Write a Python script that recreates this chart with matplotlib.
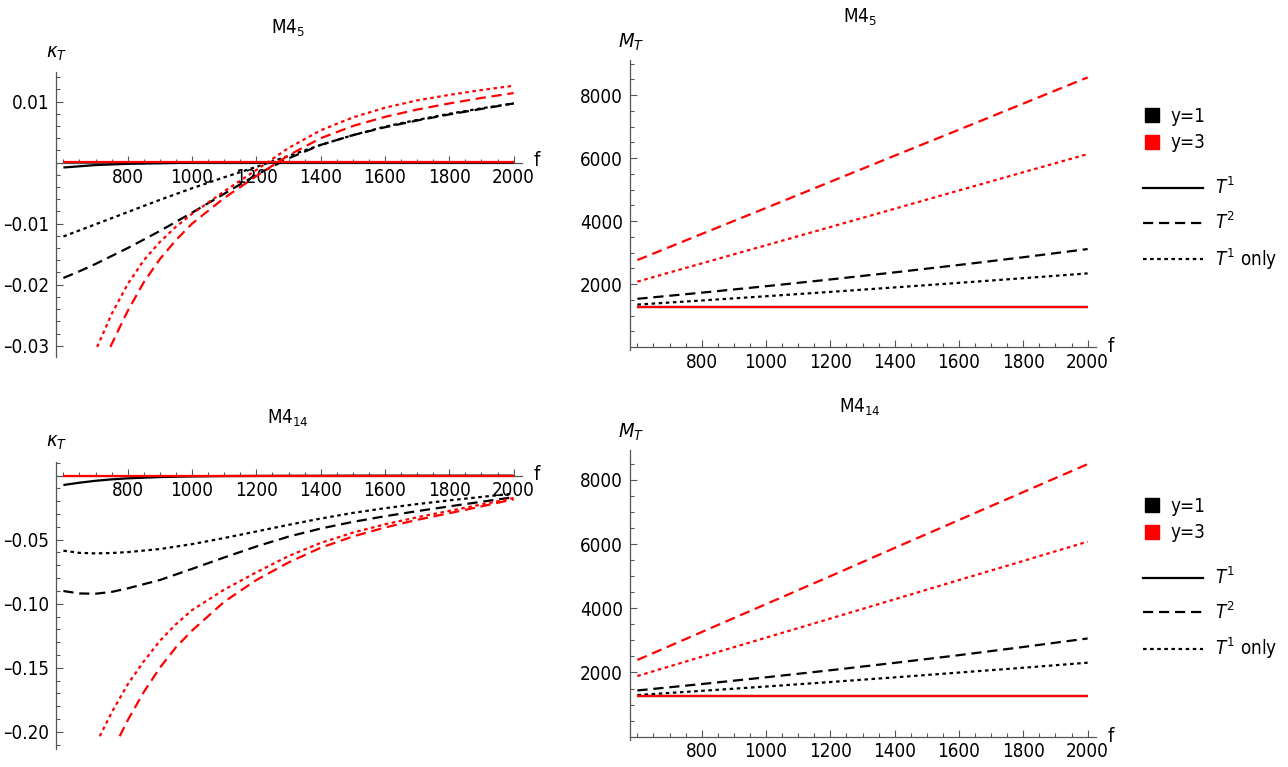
import matplotlib.pyplot as plt
from matplotlib.lines import Line2D
from matplotlib.ticker import FixedLocator, FixedFormatter, NullFormatter

plt.rcParams["font.family"] = ["DejaVu Sans"]
plt.rcParams["font.stretch"] = "condensed"
plt.rcParams["mathtext.fontset"] = "dejavusans"

# ---------------------------------------------------------------- data
# kappa_T for M4_5 (top left)
f_k5_black = [600, 650, 700, 750, 800, 900, 1000, 1100, 1200, 1300, 1400, 1500, 1600, 1700, 1800, 1900, 2000]
k5_y1_T1 = [-0.0008, -0.0006, -0.0004, -0.0003, -0.0002, -0.0001, 0.0, 0.0, 0.0, 0.0, 0.0, 0.0, 0.0, 0.0, 0.0, 0.0, 0.0]
k5_y1_T2 = [-0.0189, -0.0178, -0.0166, -0.0153, -0.0140, -0.0112, -0.0082, -0.0051, -0.0020, 0.0007, 0.0029, 0.0045, 0.0058, 0.0069, 0.0079, 0.0088, 0.0097]
k5_y1_T1only = [-0.0121, -0.0111, -0.0101, -0.0091, -0.0081, -0.0061, -0.0042, -0.0024, -0.0007, 0.0011, 0.0029, 0.0045, 0.0059, 0.0070, 0.0080, 0.0089, 0.0097]
f_k5_red_solid = [600, 2000]
k5_y3_T1 = [0.0001, 0.0001]
f_k5_red_T2 = [746, 775, 800, 850, 900, 950, 1000, 1100, 1200, 1300, 1400, 1500, 1600, 1700, 1800, 1900, 2000]
k5_y3_T2 = [-0.0302, -0.0270, -0.0243, -0.0196, -0.0158, -0.0127, -0.0100, -0.0058, -0.0022, 0.0012, 0.0040, 0.0060, 0.0075, 0.0087, 0.0097, 0.0106, 0.0114]
f_k5_red_T1only = [705, 750, 800, 850, 900, 950, 1000, 1100, 1200, 1300, 1400, 1500, 1600, 1700, 1800, 1900, 2000]
k5_y3_T1only = [-0.0302, -0.0248, -0.0199, -0.0160, -0.0130, -0.0105, -0.0084, -0.0047, -0.0012, 0.0024, 0.0053, 0.0074, 0.0090, 0.0102, 0.0111, 0.0119, 0.0126]

# kappa_T for M4_14 (bottom left)
f_k14_black = [600, 650, 700, 750, 800, 900, 1000, 1100, 1200, 1300, 1400, 1500, 1600, 1700, 1800, 1900, 2000]
k14_y1_T1 = [-0.0073, -0.0055, -0.0040, -0.0029, -0.0021, -0.0011, -0.0006, -0.0003, -0.0002, -0.0001, -0.0001, 0.0, 0.0, 0.0, 0.0, 0.0, 0.0]
k14_y1_T2 = [-0.0901, -0.0920, -0.0922, -0.0908, -0.0880, -0.0815, -0.0728, -0.0639, -0.0553, -0.0476, -0.0413, -0.0361, -0.0317, -0.0277, -0.0240, -0.0204, -0.0168]
k14_y1_T1only = [-0.0586, -0.0603, -0.0607, -0.0604, -0.0597, -0.0573, -0.0535, -0.0487, -0.0436, -0.0384, -0.0335, -0.0291, -0.0254, -0.0222, -0.0193, -0.0166, -0.0140]
f_k14_red_solid = [600, 2000]
k14_y3_T1 = [0.0, 0.0]
f_k14_red_T2 = [775, 800, 850, 900, 950, 1000, 1100, 1200, 1300, 1400, 1500, 1600, 1700, 1800, 1900, 2000]
k14_y3_T2 = [-0.2035, -0.1910, -0.1690, -0.1500, -0.1340, -0.1210, -0.0985, -0.0815, -0.0678, -0.0563, -0.0475, -0.0405, -0.0345, -0.0293, -0.0240, -0.0185]
f_k14_red_T1only = [713, 750, 800, 850, 900, 950, 1000, 1100, 1200, 1300, 1400, 1500, 1600, 1700, 1800, 1900, 2000]
k14_y3_T1only = [-0.2035, -0.1850, -0.1630, -0.1450, -0.1290, -0.1160, -0.1050, -0.0890, -0.0755, -0.0628, -0.0525, -0.0445, -0.0380, -0.0325, -0.0275, -0.0225, -0.0175]

# M_T (right column)
f_mass = [600, 800, 1000, 1200, 1400, 1600, 1800, 2000]
m5_y1_T1 = [1258, 1258, 1258, 1258, 1258, 1258, 1258, 1258]
m5_y1_T2 = [1530, 1725, 1930, 2145, 2370, 2605, 2850, 3110]
m5_y1_T1only = [1347, 1477, 1612, 1750, 1892, 2037, 2185, 2337]
m5_y3_T1 = [1263, 1263, 1263, 1263, 1263, 1263, 1263, 1263]
m5_y3_T2 = [2760, 3590, 4415, 5245, 6075, 6900, 7730, 8560]
m5_y3_T1only = [2075, 2655, 3230, 3810, 4390, 4970, 5550, 6125]

m14_y1_T1 = [1262, 1262, 1262, 1262, 1262, 1262, 1262, 1262]
m14_y1_T2 = [1440, 1640, 1850, 2070, 2300, 2540, 2795, 3060]
m14_y1_T1only = [1298, 1428, 1563, 1703, 1848, 1998, 2148, 2305]
m14_y3_T1 = [1267, 1267, 1267, 1267, 1267, 1267, 1267, 1267]
m14_y3_T2 = [2390, 3260, 4130, 5000, 5880, 6750, 7620, 8490]
m14_y3_T1only = [1890, 2490, 3085, 3680, 4280, 4880, 5475, 6075]

x_major = [800, 1000, 1200, 1400, 1600, 1800, 2000]
x_labels = ["800", "1000", "1200", "1400", "1600", "1800", "2000"]

# ---------------------------------------------------------------- style
W, H = 1288, 767
RED = "#ff0000"
LW = 1.6
SOLID = "-"
DASHED = (0, (4.6, 2.6))
DOTTED = (0, (1.6, 1.6))
FS = 13.5
AXIS_COLOR = "#555555"
NEG = "\u2013"  # short dash, closer to the reference's minus sign

fig = plt.figure(figsize=(W / 100, H / 100), dpi=100, facecolor="white")


def add_panel(left, top, right, bottom):
    return fig.add_axes([left / W, 1 - bottom / H, (right - left) / W, (bottom - top) / H])


def style_panel(ax, ylim, yticks, ylabels, yminor):
    ax.set_xlim(577, 2026)
    ax.set_ylim(*ylim)
    ax.set_facecolor("none")
    for side in ("top", "right"):
        ax.spines[side].set_visible(False)
    ax.spines["bottom"].set_position(("data", 0))
    for side in ("left", "bottom"):
        ax.spines[side].set_color(AXIS_COLOR)
        ax.spines[side].set_linewidth(0.9)
        ax.spines[side].set_zorder(0.5)
    ax.set_axisbelow(True)

    ax.xaxis.set_major_locator(FixedLocator(x_major))
    ax.xaxis.set_major_formatter(FixedFormatter(x_labels))
    ax.xaxis.set_minor_locator(FixedLocator([v for v in range(600, 2001, 50) if v not in x_major]))
    ax.xaxis.set_minor_formatter(NullFormatter())
    ax.yaxis.set_major_locator(FixedLocator(yticks))
    ax.yaxis.set_major_formatter(FixedFormatter(ylabels))
    ax.yaxis.set_minor_locator(FixedLocator(yminor))
    ax.yaxis.set_minor_formatter(NullFormatter())

    ax.tick_params(which="both", direction="in", color=AXIS_COLOR, width=0.8)
    ax.tick_params(which="major", length=5)
    ax.tick_params(which="minor", length=3)
    ax.tick_params(axis="x", which="major", labelsize=FS, pad=4)
    ax.tick_params(axis="y", which="major", labelsize=FS, pad=5)


def draw_series(ax, series):
    for fx, vals, color, ls in series:
        ax.plot(fx, vals, color=color, linestyle=ls, linewidth=LW, solid_capstyle="butt")


def axis_text(x, y, s, size=FS, **kw):
    fig.text(x / W, 1 - y / H, s, fontsize=size, ha="center", va="center", **kw)


# top left: kappa_T, M4_5
ax_tl = add_panel(56, 71.7, 522, 356.7)
style_panel(
    ax_tl, (-0.0318, 0.0149),
    [0.01, -0.01, -0.02, -0.03], ["0.01", NEG + "0.01", NEG + "0.02", NEG + "0.03"],
    [round(v * 0.002, 4) for v in range(-15, 8) if v % 5 != 0],
)
draw_series(ax_tl, [
    (f_k5_black, k5_y1_T1, "black", SOLID),
    (f_k5_black, k5_y1_T2, "black", DASHED),
    (f_k5_black, k5_y1_T1only, "black", DOTTED),
    (f_k5_red_solid, k5_y3_T1, RED, SOLID),
    (f_k5_red_T2, k5_y3_T2, RED, DASHED),
    (f_k5_red_T1only, k5_y3_T1only, RED, DOTTED),
])
axis_text(288, 28, "M4$_{5}$")
axis_text(57, 53, r"$\kappa_T$", size=14.5)
axis_text(537, 161, "f", size=14.5)

# bottom left: kappa_T, M4_14
ax_bl = add_panel(56, 461.7, 522, 749.3)
style_panel(
    ax_bl, (-0.2137, 0.0109),
    [-0.05, -0.10, -0.15, -0.20], [NEG + "0.05", NEG + "0.10", NEG + "0.15", NEG + "0.20"],
    [round(v * 0.01, 3) for v in range(-21, 2) if v % 5 != 0],
)
draw_series(ax_bl, [
    (f_k14_black, k14_y1_T1, "black", SOLID),
    (f_k14_black, k14_y1_T2, "black", DASHED),
    (f_k14_black, k14_y1_T1only, "black", DOTTED),
    (f_k14_red_solid, k14_y3_T1, RED, SOLID),
    (f_k14_red_T2, k14_y3_T2, RED, DASHED),
    (f_k14_red_T1only, k14_y3_T1only, RED, DOTTED),
])
axis_text(288, 418, "M4$_{14}$")
axis_text(57, 443, r"$\kappa_T$", size=14.5)
axis_text(537, 475, "f", size=14.5)

# right column: M_T
mass_minor = [v for v in range(500, 9001, 500) if v % 2000 != 0]
for top, x_axis_y, ymax, title, (m_b1, m_b2, m_b3, m_r1, m_r2, m_r3) in [
    (60.4, 347.0, 9100, "M4$_{5}$", (m5_y1_T1, m5_y1_T2, m5_y1_T1only, m5_y3_T1, m5_y3_T2, m5_y3_T1only)),
    (450.0, 736.7, 8930, "M4$_{14}$", (m14_y1_T1, m14_y1_T2, m14_y1_T1only, m14_y3_T1, m14_y3_T2, m14_y3_T1only)),
]:
    scale = (x_axis_y - top) / ymax
    ax = add_panel(630, top, 1096, x_axis_y + 100 * scale)
    style_panel(ax, (-100, ymax), [2000, 4000, 6000, 8000], ["2000", "4000", "6000", "8000"], mass_minor)
    draw_series(ax, [
        (f_mass, m_b1, "black", SOLID),
        (f_mass, m_b2, "black", DASHED),
        (f_mass, m_b3, "black", DOTTED),
        (f_mass, m_r1, RED, SOLID),
        (f_mass, m_r2, RED, DASHED),
        (f_mass, m_r3, RED, DOTTED),
    ])
    axis_text(860, top - 43, title)
    axis_text(631, top - 18, "$M_T$", size=14.5)
    axis_text(1111, x_axis_y, "f", size=14.5)

    shift = top - 60.4
    color_handles = [
        Line2D([], [], marker="s", linestyle="none", color="black", markersize=9.5),
        Line2D([], [], marker="s", linestyle="none", color=RED, markersize=9.5),
    ]
    fig.legend(
        color_handles, ["y=1", "y=3"], loc="upper left",
        bbox_to_anchor=(1143 / W, 1 - (107 + shift) / H),
        frameon=False, fontsize=FS, handlelength=0.95, handletextpad=0.5,
        labelspacing=0.4, borderpad=0, borderaxespad=0,
    )
    style_handles = [
        Line2D([], [], color="black", linestyle=SOLID, linewidth=LW),
        Line2D([], [], color="black", linestyle=DASHED, linewidth=LW),
        Line2D([], [], color="black", linestyle=DOTTED, linewidth=LW),
    ]
    fig.legend(
        style_handles, ["$T^1$", "$T^2$", "$T^1$ only"], loc="upper left",
        bbox_to_anchor=(1143 / W, 1 - (177 + shift) / H),
        frameon=False, fontsize=FS, handlelength=3.2, handletextpad=0.65,
        labelspacing=0.7, borderpad=0, borderaxespad=0,
    )

fig.savefig("out.png", dpi=100, facecolor="white")
